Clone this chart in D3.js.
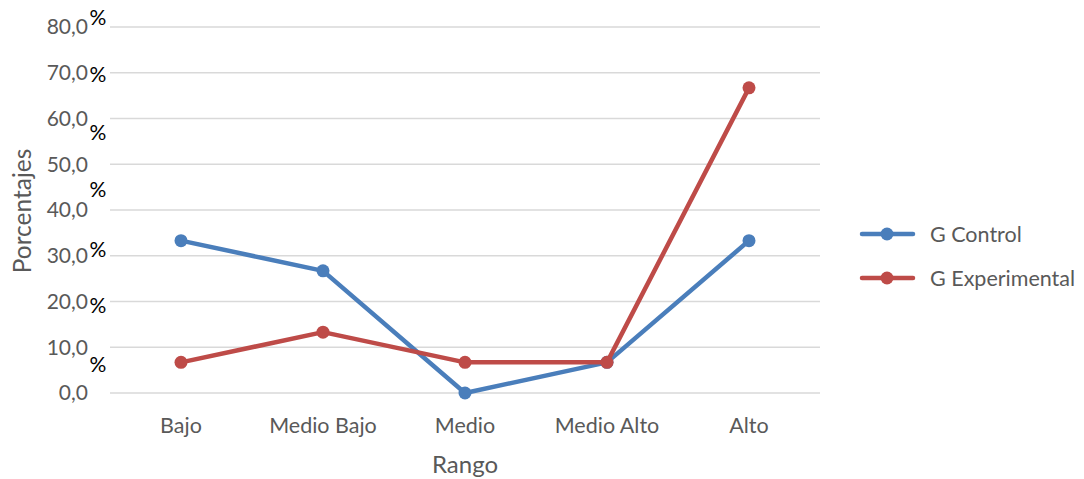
<!DOCTYPE html>
<html>
<head>
<meta charset="utf-8">
<script src="https://cdn.jsdelivr.net/npm/d3@7"></script>
<style>
  body { margin: 0; background: #fff; }
  svg text { font-family: Lato, "Open Sans", sans-serif; }
</style>
</head>
<body>
<svg id="chart" width="1084" height="479"></svg>
<script>
// data
var categories = ["Bajo", "Medio Bajo", "Medio", "Medio Alto", "Alto"];
var controlValues = [33.3, 26.7, 0, 6.7, 33.3];
var experimentalValues = [6.7, 13.3, 6.7, 6.7, 66.7];
var seriesNames = ["G Control", "G Experimental"];
var seriesColors = ["#4a7ebb", "#be4b48"];
var yTicks = [0, 10, 20, 30, 40, 50, 60, 70, 80];
// the "%" signs sit on their own wrapped line in the original, at these levels
var percentLevels = [82.0, 69.5, 57.0, 44.4, 31.3, 19.2, 6.3];

var svg = d3.select("#chart");
var margin = {left: 110, right: 264, top: 27, bottom: 86};
var width = 1084 - margin.left - margin.right;
var height = 479 - margin.top - margin.bottom;
var g = svg.append("g").attr("transform", "translate(" + margin.left + "," + margin.top + ")");

var x = d3.scaleBand().domain(categories).range([0, width]);
var y = d3.scaleLinear().domain([0, 80]).range([height, 0]);

// gridlines
g.selectAll("line.grid").data(yTicks).enter().append("line")
    .classed("grid", true)
    .attr("x1", 0).attr("x2", width)
    .attr("y1", function(d) { return y(d); })
    .attr("y2", function(d) { return y(d); })
    .attr("stroke", "#d9d9d9")
    .attr("stroke-width", 1.3);

// y tick labels
var fmt = function(d) { return d3.format(".1f")(d).replace(".", ","); };
g.selectAll("text.ytick").data(yTicks).enter().append("text")
    .classed("ytick", true)
    .attr("x", -22)
    .attr("y", function(d) { return y(d); })
    .attr("dy", "0.35em")
    .attr("text-anchor", "end")
    .attr("fill", "#595959")
    .style("font-size", "21px")
    .text(fmt);

g.selectAll("text.pct").data(percentLevels).enter().append("text")
    .classed("pct", true)
    .attr("x", -12)
    .attr("y", function(d) { return y(d); })
    .attr("dy", "0.35em")
    .attr("text-anchor", "middle")
    .attr("fill", "#000")
    .style("font-size", "21px")
    .text("%");

// x tick labels
g.selectAll("text.xtick").data(categories).enter().append("text")
    .classed("xtick", true)
    .attr("x", function(d) { return x(d) + x.bandwidth() / 2; })
    .attr("y", height + 40)
    .attr("text-anchor", "middle")
    .attr("fill", "#595959")
    .style("font-size", "21.5px")
    .text(function(d) { return d; });

// axis titles
g.append("text")
    .attr("x", width / 2)
    .attr("y", height + 80)
    .attr("text-anchor", "middle")
    .attr("fill", "#595959")
    .style("font-size", "24px")
    .text("Rango");

svg.append("text")
    .attr("transform", "translate(31,211) rotate(-90)")
    .attr("text-anchor", "middle")
    .attr("fill", "#595959")
    .style("font-size", "24.5px")
    .text("Porcentajes");

// series
var series = [controlValues, experimentalValues];
var line = d3.line()
    .x(function(d, i) { return x(categories[i]) + x.bandwidth() / 2; })
    .y(function(d) { return y(d); });

series.forEach(function(vals, si) {
  g.append("path")
      .datum(vals)
      .attr("d", line)
      .attr("fill", "none")
      .attr("stroke", seriesColors[si])
      .attr("stroke-width", 4.5)
      .attr("stroke-linejoin", "round")
      .attr("stroke-linecap", "round");
  g.selectAll("circle.s" + si).data(vals).enter().append("circle")
      .classed("s" + si, true)
      .attr("cx", function(d, i) { return x(categories[i]) + x.bandwidth() / 2; })
      .attr("cy", function(d) { return y(d); })
      .attr("r", 6.5)
      .attr("fill", seriesColors[si]);
});

// legend
var legend = svg.append("g").attr("transform", "translate(860,234)");
seriesNames.forEach(function(name, i) {
  var row = legend.append("g").attr("transform", "translate(0," + (i * 44) + ")");
  row.append("line")
      .attr("x1", 2).attr("x2", 53)
      .attr("stroke", seriesColors[i])
      .attr("stroke-width", 4.5)
      .attr("stroke-linecap", "round");
  row.append("circle").attr("cx", 27).attr("r", 6.5).attr("fill", seriesColors[i]);
  row.append("text")
      .attr("x", 70).attr("dy", "0.35em")
      .attr("fill", "#595959")
      .style("font-size", "21.5px")
      .text(name);
});
</script>
</body>
</html>
